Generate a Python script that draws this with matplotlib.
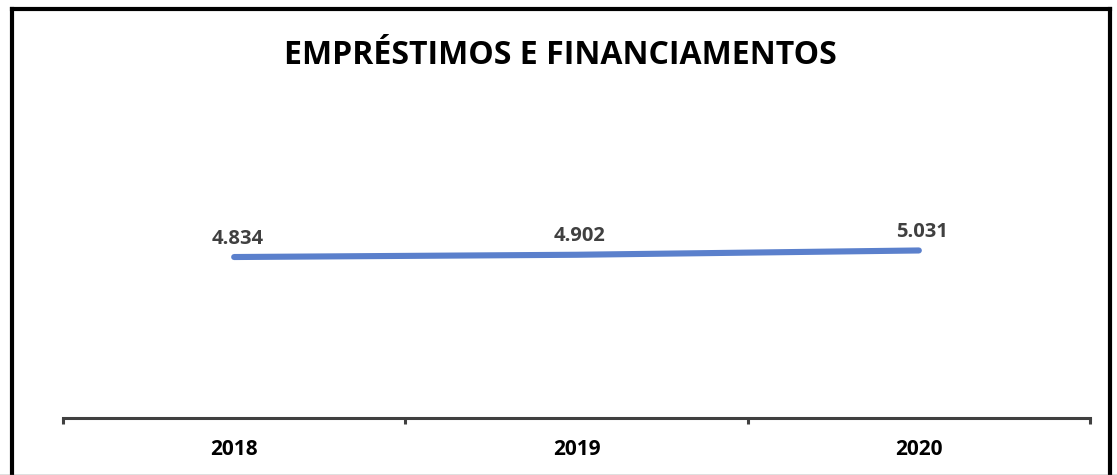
import matplotlib
matplotlib.use("Agg")
import matplotlib.pyplot as plt
from matplotlib.lines import Line2D

years = ["2018", "2019", "2020"]
values = [4.834, 4.902, 5.031]
labels = ["4.834", "4.902", "5.031"]
title = "EMPRÉSTIMOS E FINANCIAMENTOS"

W, H = 1117, 475
fig = plt.figure(figsize=(W / 100, H / 100), dpi=100)
plt.rcParams['font.family'] = ['Open Sans', 'DejaVu Sans']

ax = fig.add_axes([63 / W, (H - 418) / H, (1090 - 63) / W, (418 - 85) / H])
x = list(range(len(years)))
ax.plot(x, values, color="#5B80CC", lw=4.4, solid_capstyle="round")
ax.set_xlim(-0.5, len(years) - 0.5)
ax.set_ylim(0, 10)
for xi, v, lab in zip(x, values, labels):
    ax.annotate(lab, (xi, v), xytext=(2.5, 6), textcoords="offset points",
                ha="center", va="bottom", fontsize=14.5, fontweight="bold",
                color="#404040")

for s in ["top", "right", "left"]:
    ax.spines[s].set_visible(False)
ax.spines["bottom"].set_color("#404040")
ax.spines["bottom"].set_linewidth(2.2)
ax.set_yticks([])
ax.set_xticks([i - 0.5 for i in range(len(years) + 1)])
ax.set_xticklabels([])
ax.tick_params(axis="x", direction="out", length=4, width=2.2, color="#404040")
ax.set_xticks(x, minor=True)
ax.set_xticklabels(years, minor=True, fontsize=15, fontweight="bold", color="black")
ax.tick_params(axis="x", which="minor", length=0, pad=15)

fig.text(560 / W, 1 - 56 / H, title, ha="center", va="center",
         fontsize=23, fontweight="bold", color="black")

# outer frame
lw = 3.0
fig.add_artist(Line2D([12 / W, 12 / W], [0, 1 - 9 / H], color="black", lw=lw, transform=fig.transFigure))
fig.add_artist(Line2D([1110 / W, 1110 / W], [0, 1 - 9 / H], color="black", lw=lw, transform=fig.transFigure))
fig.add_artist(Line2D([12 / W, 1110 / W], [1 - 9 / H, 1 - 9 / H], color="black", lw=lw, transform=fig.transFigure, solid_capstyle="projecting"))
fig.add_artist(Line2D([0, 1], [0.5 / H, 0.5 / H], color="#606060", lw=1.0, transform=fig.transFigure))

fig.savefig("out.png", dpi=100, facecolor="white")
